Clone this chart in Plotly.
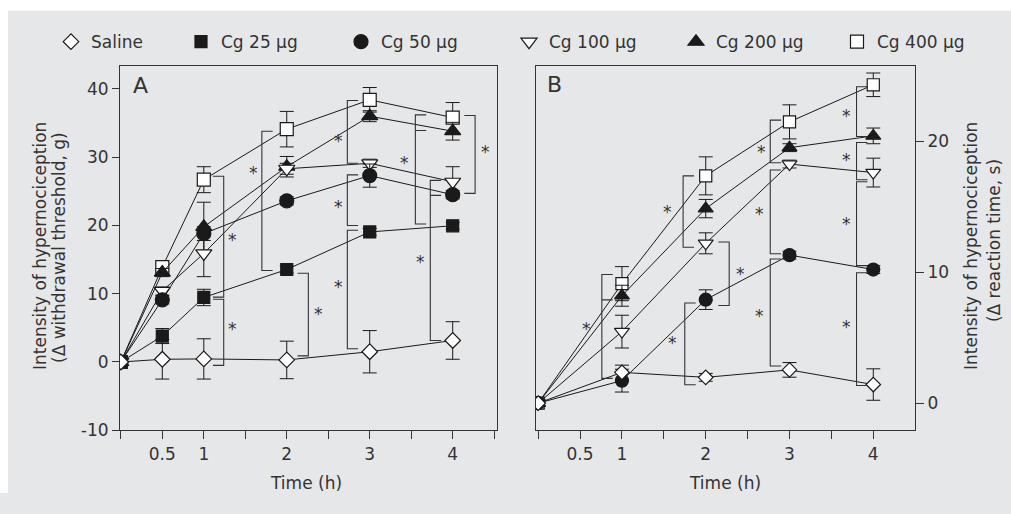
import plotly.graph_objects as go

# figure starts at the window's top-left corner; the page below it is painted in the panel grey
W, H = 1011, 503
BG = "#e6e7e9"

# ---------------- data ----------------
time_A = [0, 0.5, 1, 2, 3, 4]
time_B = [0, 1, 2, 3, 4]

series_names = ["Saline", "Cg 25 μg", "Cg 50 μg", "Cg 100 μg", "Cg 200 μg", "Cg 400 μg"]

# Panel A: Δ withdrawal threshold (g), mean and SEM
saline_A = [0, 0.4, 0.45, 0.3, 1.5, 3.15]
saline_A_err = [0, 2.9, 2.95, 2.75, 3.1, 2.75]
cg25_A = [0, 3.8, 9.45, 13.55, 19.05, 19.95]
cg25_A_err = [0, 1.1, 1.2, 0.5, 0.5, 0.5]
cg50_A = [0, 9.1, 18.8, 23.6, 27.3, 24.5]
cg50_A_err = [0, 0.6, 1.0, 0.6, 1.7, 0.6]
cg100_A = [0, 10.4, 15.9, 28.3, 29.1, 26.4]
cg100_A_err = [0, 0.6, 3.4, 0.8, 0.6, 2.2]
cg200_A = [0, 13.1, 19.8, 28.6, 36.0, 33.8]
cg200_A_err = [0, 0.6, 3.6, 1.5, 0.8, 1.3]
cg400_A = [0, 13.9, 26.7, 34.1, 38.4, 35.8]
cg400_A_err = [0, 0.6, 1.9, 2.6, 1.8, 2.2]

# Panel B: Δ reaction time (s), mean and SEM
saline_B = [0, 2.35, 1.97, 2.54, 1.42]
saline_B_err = [0, 0.55, 0.3, 0.56, 1.2]
cg50_B = [0, 1.72, 7.9, 11.3, 10.2]
cg50_B_err = [0, 0.87, 0.75, 0.3, 0.3]
cg100_B = [0, 5.46, 12.2, 18.25, 17.6]
cg100_B_err = [0, 1.25, 0.8, 0.3, 1.1]
cg200_B = [0, 8.2, 14.85, 19.5, 20.4]
cg200_B_err = [0, 0.8, 0.7, 0.3, 0.6]
cg400_B = [0, 9.12, 17.35, 21.47, 24.3]
cg400_B_err = [0, 1.3, 1.45, 1.3, 0.9]

# axis ticks
x_tickvals = [0, 0.5, 1, 1.5, 2, 2.5, 3, 3.5, 4, 4.5]
x_ticktext = ["", "0.5", "1", "", "2", "", "3", "", "4", ""]
yA_tickvals = [-10, 0, 10, 20, 30, 40]
yA_ticktext = ["-10", "0", "10", "20", "30", "40"]
yB_tickvals = [0, 10, 20]
yB_ticktext = ["0", "10", "20"]

# significance brackets: (x, y_top, y_bottom, direction of end ticks, extra tick levels)
brackets_A = [
    (1.24, 27.2, 9.5, -1, []),
    (1.24, 9.2, -0.5, -1, []),
    (1.70, 33.8, 13.4, 1, []),
    (2.26, 13.0, 0.9, -1, []),
    (2.73, 38.3, 29.1, 1, []),
    (2.73, 27.4, 20.0, 1, []),
    (2.73, 19.3, 1.95, 1, []),
    (3.55, 36.2, 20.2, 1, [33.9]),
    (3.73, 26.6, 3.15, 1, [24.4]),
    (4.27, 36.1, 24.7, -1, []),
]
stars_A_x = [1.35, 1.35, 1.60, 2.38, 2.62, 2.62, 2.62, 3.42, 3.61, 4.40]
stars_A_y = [18.4, 5.4, 28.2, 7.6, 33.0, 23.3, 11.6, 29.7, 15.3, 31.3]

brackets_B = [
    (0.76, 9.82, 1.89, 1, [7.88]),
    (1.73, 17.35, 11.9, 1, []),
    (1.75, 7.65, 1.4, 1, []),
    (2.28, 12.3, 7.45, -1, []),
    (2.77, 21.6, 18.35, 1, []),
    (2.77, 17.8, 11.4, 1, []),
    (2.77, 11.0, 2.84, 1, []),
    (3.80, 24.15, 20.35, 1, []),
    (3.80, 19.9, 17.05, 1, []),
    (3.80, 16.9, 10.5, 1, []),
    (3.80, 9.95, 1.35, 1, []),
]
stars_B_x = [0.58, 1.54, 1.60, 2.42, 2.66, 2.64, 2.64, 3.68, 3.68, 3.68, 3.68]
stars_B_y = [5.95, 14.9, 4.9, 10.2, 19.5, 14.75, 6.95, 22.2, 18.85, 14.0, 6.08]

# ---------------- styling ----------------
FONT = "DejaVu Sans"
TXT = "#333333"
INK = "#1a1a1a"


def PX(px):  # window pixel -> paper x
    return px / W


def PY(py):  # window pixel -> paper y
    return 1 - py / H


styles = {
    "Saline": dict(symbol="diamond", color="white", size=12),
    "Cg 25 μg": dict(symbol="square", color=INK, size=12),
    "Cg 50 μg": dict(symbol="circle", color=INK, size=14),
    "Cg 100 μg": dict(symbol="triangle-down", color="white", size=14),
    "Cg 200 μg": dict(symbol="triangle-up", color=INK, size=14),
    "Cg 400 μg": dict(symbol="square", color="white", size=13),
}


def marker(name, scale=1.0):
    s = styles[name]
    return dict(symbol=s["symbol"], color=s["color"], size=s["size"] * scale,
                line=dict(color=INK, width=1.2))


fig = go.Figure()

panel_A = [
    ("Cg 400 μg", cg400_A, cg400_A_err),
    ("Cg 200 μg", cg200_A, cg200_A_err),
    ("Cg 100 μg", cg100_A, cg100_A_err),
    ("Cg 50 μg", cg50_A, cg50_A_err),
    ("Cg 25 μg", cg25_A, cg25_A_err),
    ("Saline", saline_A, saline_A_err),
]
panel_B = [
    ("Cg 400 μg", cg400_B, cg400_B_err),
    ("Cg 200 μg", cg200_B, cg200_B_err),
    ("Cg 100 μg", cg100_B, cg100_B_err),
    ("Cg 50 μg", cg50_B, cg50_B_err),
    ("Saline", saline_B, saline_B_err),
]

for name, vals, err in panel_A:
    fig.add_trace(go.Scatter(
        x=time_A, y=vals, mode="lines+markers", name=name, showlegend=False,
        line=dict(color=INK, width=1), marker=marker(name),
        error_y=dict(type="data", array=err, color=INK, thickness=1, width=7),
        xaxis="x", yaxis="y"))

for name, vals, err in panel_B:
    fig.add_trace(go.Scatter(
        x=time_B, y=vals, mode="lines+markers", name=name, showlegend=False,
        line=dict(color=INK, width=1), marker=marker(name, 0.93),
        error_y=dict(type="data", array=err, color=INK, thickness=1, width=7),
        xaxis="x2", yaxis="y2"))

# legend entries, each in its own legend so they can be spaced like the reference
legend_sym_px = [72, 202, 362, 530, 697, 858]
for i, name in enumerate(series_names):
    lg = "legend" if i == 0 else f"legend{i + 1}"
    fig.add_trace(go.Scatter(
        x=[None], y=[None], mode="markers", name=name, showlegend=True,
        marker=marker(name), legend=lg, xaxis="x", yaxis="y"))

shapes = []
# white strips above and to the left of the grey panel
shapes.append(dict(type="rect", xref="paper", yref="paper", x0=0, x1=1, y0=PY(11), y1=1,
                   fillcolor="white", line=dict(width=0), layer="below"))
shapes.append(dict(type="rect", xref="paper", yref="paper", x0=0, x1=PX(8), y0=0, y1=1,
                   fillcolor="white", line=dict(width=0), layer="below"))

TICK = 0.13


def add_brackets(brs, xr, yr):
    for bx, yt, yb, d, extra in brs:
        path = f"M {bx + d * TICK},{yt} L {bx},{yt} L {bx},{yb} L {bx + d * TICK},{yb}"
        shapes.append(dict(type="path", path=path, xref=xr, yref=yr,
                           line=dict(color="#333333", width=1.1)))
        for ye in extra:
            shapes.append(dict(type="line", xref=xr, yref=yr, x0=bx, x1=bx + d * TICK, y0=ye, y1=ye,
                               line=dict(color="#333333", width=1.1)))


add_brackets(brackets_A, "x", "y")
add_brackets(brackets_B, "x2", "y2")

annotations = []
for sx, sy in zip(stars_A_x, stars_A_y):
    annotations.append(dict(x=sx, y=sy, xref="x", yref="y", text="*", showarrow=False, yshift=-4,
                            font=dict(family=FONT, size=17, color=TXT)))
for sx, sy in zip(stars_B_x, stars_B_y):
    annotations.append(dict(x=sx, y=sy, xref="x2", yref="y2", text="*", showarrow=False, yshift=-4,
                            font=dict(family=FONT, size=17, color=TXT)))


def pa(px, py, text, size=17, angle=0):
    annotations.append(dict(x=PX(px), y=PY(py), xref="paper", yref="paper", text=text,
                            showarrow=False, textangle=angle, xanchor="center", yanchor="middle",
                            font=dict(family=FONT, size=size, color=TXT)))


pa(140, 87, "A", size=22)
pa(554, 86, "B", size=22)
pa(306, 493, "Time (h)")
pa(725, 493, "Time (h)")
pa(40, 251, "Intensity of hypernociception", angle=-90)
pa(59, 253, "(Δ withdrawal threshold, g)", angle=-90)
pa(971, 251, "Intensity of hypernociception", angle=-90)
pa(994, 246, "(Δ reaction time, s)", angle=-90)

axis_common = dict(showline=True, linecolor="#333333", linewidth=1.1, mirror=True,
                   ticks="outside", tickcolor="#333333", tickwidth=1.1,
                   showgrid=False, zeroline=False,
                   tickfont=dict(family=FONT, size=17, color=TXT))
ydom = [PY(439), PY(67)]

layout = dict(
    width=W, height=H,
    margin=dict(l=0, r=0, t=0, b=0),
    paper_bgcolor=BG, plot_bgcolor="rgba(0,0,0,0)",
    font=dict(family=FONT, size=17, color=TXT),
    hovermode=False,
    xaxis=dict(axis_common, domain=[PX(120), PX(497)], range=[-0.01, 4.534],
               tickvals=x_tickvals, ticktext=x_ticktext, ticklen=8, anchor="y"),
    yaxis=dict(axis_common, domain=ydom, range=[-10, 43.4], tickvals=yA_tickvals,
               ticktext=yA_ticktext, ticklen=7, anchor="x"),
    xaxis2=dict(axis_common, domain=[PX(536), PX(915)], range=[-0.026, 4.498],
                tickvals=x_tickvals, ticktext=x_ticktext, ticklen=8, anchor="y2"),
    yaxis2=dict(axis_common, domain=ydom, range=[-2.07, 25.76], tickvals=yB_tickvals,
                ticktext=yB_ticktext, ticklen=8, side="right", anchor="x2"),
    shapes=shapes, annotations=annotations,
)
for i, px in enumerate(legend_sym_px):
    key = "legend" if i == 0 else f"legend{i + 1}"
    layout[key] = dict(x=PX(px - 21), y=PY(43), xanchor="left", yanchor="middle",
                       bgcolor="rgba(0,0,0,0)", borderwidth=0, itemsizing="trace",
                       font=dict(family=FONT, size=17, color=TXT))

fig.update_layout(**layout)
fig.write_html(
    "out.html",
    config={"displayModeBar": False},
    post_script=("document.body.style.margin='0';"
                 f"document.body.style.background='{BG}';"
                 f"document.documentElement.style.background='{BG}';"),
)
